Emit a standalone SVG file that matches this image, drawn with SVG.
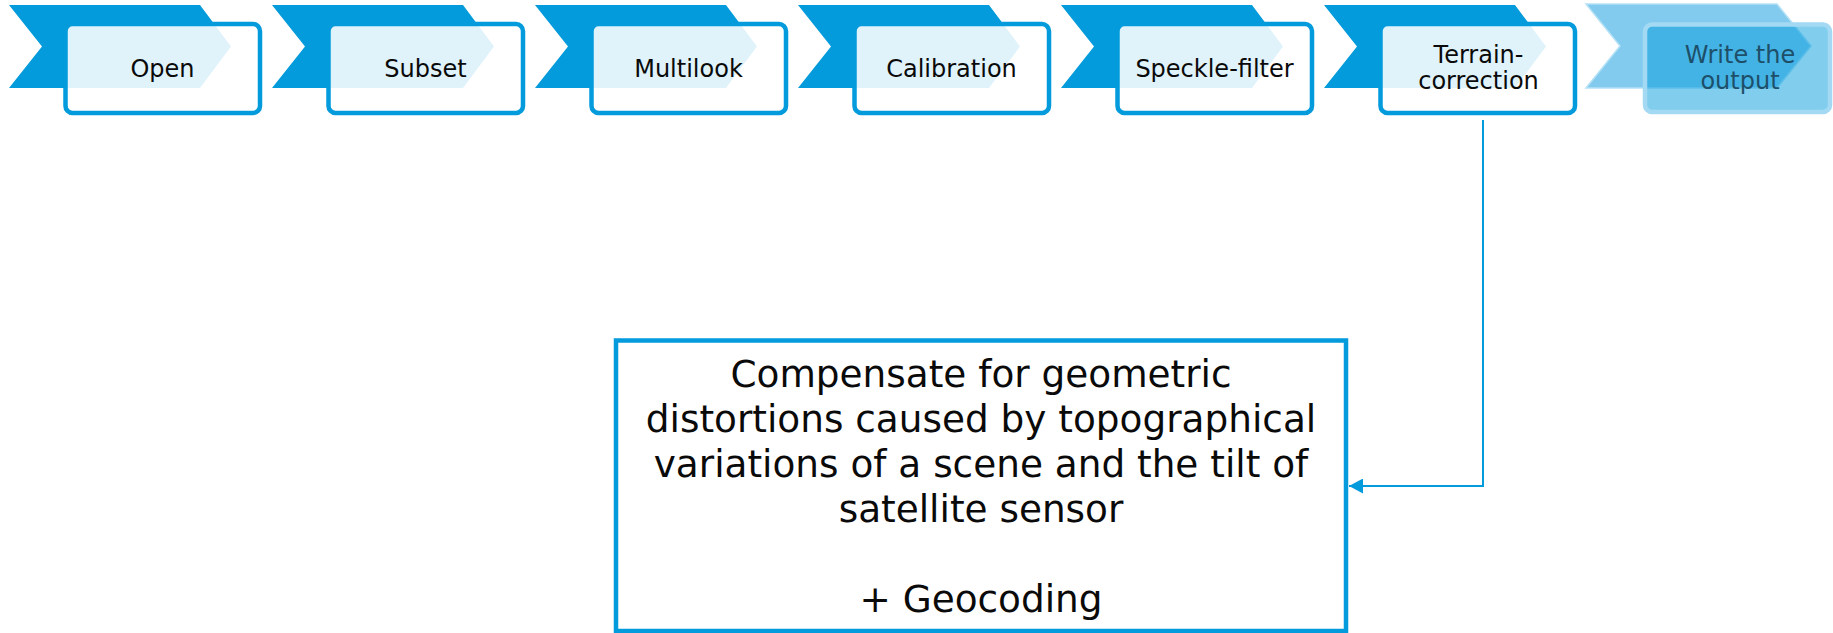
<svg xmlns="http://www.w3.org/2000/svg" width="1833" height="633" viewBox="0 0 1833 633">
  <defs>
    <style>
      .chev { fill: #039BDB; }
      .box { fill: #FFFFFF; fill-opacity: 0.88; stroke: #039BDB; stroke-width: 4.5; }
      .lbl { font-family: "DejaVu Sans", Verdana, sans-serif; font-size: 24px; fill: #0A0A0A; text-anchor: middle; }
      .chev-dim { fill: #82CBEE; stroke: #B4E1F6; stroke-width: 1.5; }
      .box-dim { fill: #039BDB; fill-opacity: 0.5; stroke: #A3D9F3; stroke-width: 4.5; }
      .lbl-dim { font-family: "DejaVu Sans", Verdana, sans-serif; font-size: 24px; fill: #1E4F69; text-anchor: middle; }
      .desc { fill: #FFFFFF; stroke: #039BDB; stroke-width: 4.5; }
      .desc-txt { font-family: "DejaVu Sans", Verdana, sans-serif; font-size: 37.4px; fill: #0A0A0A; text-anchor: middle; }
      .conn { fill: none; stroke: #039BDB; stroke-width: 2; }
    </style>
    <marker id="arrow" viewBox="0 0 14 15" refX="14" refY="7.5" markerWidth="14" markerHeight="15" markerUnits="userSpaceOnUse" orient="auto">
      <path d="M0,0 L14,7.5 L0,15 Z" fill="#039BDB"/>
    </marker>
  </defs>

  <g id="node-open">
    <polygon class="chev" points="9,5 200,5 231,46.5 200,88 9,88 42,46.5"/>
    <rect class="box" x="65.5" y="24" width="194.5" height="89" rx="7"/>
    <text class="lbl" x="162.5" y="77">Open</text>
  </g>

  <g id="node-subset" transform="translate(263,0)">
    <polygon class="chev" points="9,5 200,5 231,46.5 200,88 9,88 42,46.5"/>
    <rect class="box" x="65.5" y="24" width="194.5" height="89" rx="7"/>
    <text class="lbl" x="162.5" y="77">Subset</text>
  </g>

  <g id="node-multilook" transform="translate(526,0)">
    <polygon class="chev" points="9,5 200,5 231,46.5 200,88 9,88 42,46.5"/>
    <rect class="box" x="65.5" y="24" width="194.5" height="89" rx="7"/>
    <text class="lbl" x="162.5" y="77">Multilook</text>
  </g>

  <g id="node-calibration" transform="translate(789,0)">
    <polygon class="chev" points="9,5 200,5 231,46.5 200,88 9,88 42,46.5"/>
    <rect class="box" x="65.5" y="24" width="194.5" height="89" rx="7"/>
    <text class="lbl" x="162.5" y="77">Calibration</text>
  </g>

  <g id="node-speckle" transform="translate(1052,0)">
    <polygon class="chev" points="9,5 200,5 231,46.5 200,88 9,88 42,46.5"/>
    <rect class="box" x="65.5" y="24" width="194.5" height="89" rx="7"/>
    <text class="lbl" x="162.5" y="77">Speckle-filter</text>
  </g>

  <g id="node-terrain" transform="translate(1315,0)">
    <polygon class="chev" points="9,5 200,5 231,46.5 200,88 9,88 42,46.5"/>
    <rect class="box" x="65.5" y="24" width="194.5" height="89" rx="7"/>
    <text class="lbl" x="163.5" y="63">Terrain-</text>
    <text class="lbl" x="163.5" y="89">correction</text>
  </g>

  <g id="node-write" transform="translate(1577,0)">
    <polygon class="chev-dim" points="9,4 200,4 234,46 200,88 9,88 43,46"/>
    <rect class="box-dim" x="68" y="24.5" width="185" height="87.5" rx="7"/>
    <text class="lbl-dim" x="163" y="63">Write the</text>
    <text class="lbl-dim" x="163" y="89">output</text>
  </g>

  <g id="node-description">
    <rect class="desc" x="616" y="340.5" width="730" height="290.5"/>
    <text class="desc-txt" x="981" y="387">Compensate for geometric</text>
    <text class="desc-txt" x="981" y="432">distortions caused by topographical</text>
    <text class="desc-txt" x="981" y="477">variations of a scene and the tilt of</text>
    <text class="desc-txt" x="981" y="522">satellite sensor</text>
    <text class="desc-txt" x="981" y="612">+ Geocoding</text>
  </g>

  <g id="connectors">
    <polyline class="conn" points="1483,120 1483,486 1349,486" marker-end="url(#arrow)"/>
  </g>
</svg>
